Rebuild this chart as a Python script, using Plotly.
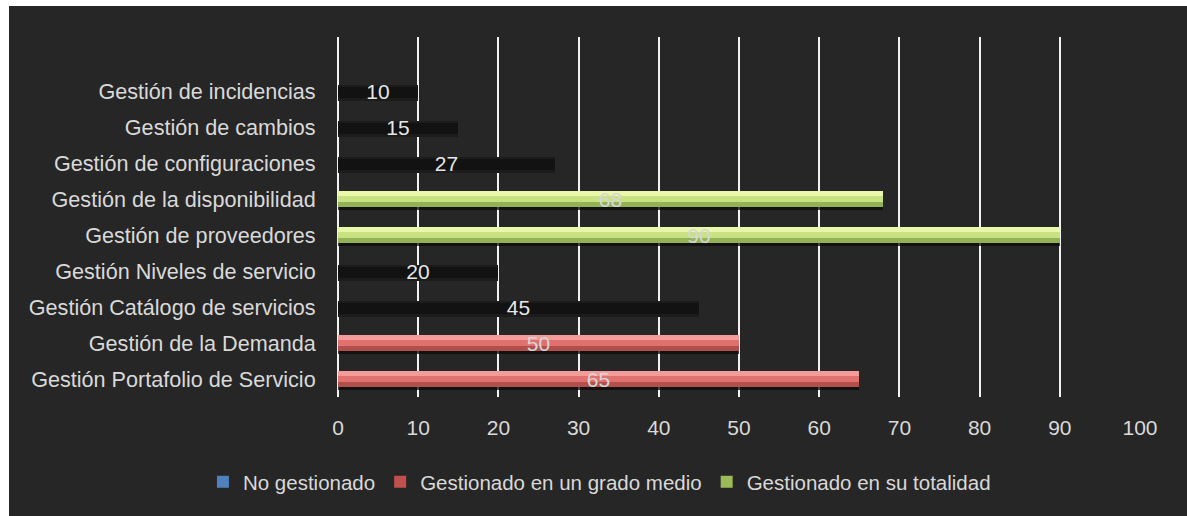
import plotly.graph_objects as go

# ---- data (top to bottom as shown) ----
categories = [
    "Gestión de incidencias",
    "Gestión de cambios",
    "Gestión de configuraciones",
    "Gestión de la disponibilidad",
    "Gestión de proveedores",
    "Gestión Niveles de servicio",
    "Gestión Catálogo de servicios",
    "Gestión de la Demanda",
    "Gestión Portafolio de Servicio",
]
no_gestionado = [10, 15, 27, None, None, 20, 45, None, None]
grado_medio = [None, None, None, None, None, None, None, 50, 65]
totalidad = [None, None, None, 68, 90, None, None, None, None]
series_names = ["No gestionado", "Gestionado en un grado medio", "Gestionado en su totalidad"]
x_ticks = [0, 10, 20, 30, 40, 50, 60, 70, 80, 90, 100]

# positions: top category highest (one empty slot above)
n = len(categories)
ypos = [n - 1 - i for i in range(n)]

FONT = "Liberation Sans"
TXT = "#d9d9d9"
BG = "#262626"

fig = go.Figure()

def layered(vals, name, layers, text_color):
    # shadow
    fig.add_trace(go.Bar(y=ypos, x=vals, orientation="h", width=0.46, offset=-0.31,
                         marker=dict(color="rgba(12,12,12,0.75)", line_width=0),
                         showlegend=False, hoverinfo="skip"))
    for (w, off, col) in layers:
        fig.add_trace(go.Bar(y=ypos, x=vals, orientation="h", width=w, offset=off,
                             marker=dict(color=col, line_width=0),
                             showlegend=False, hoverinfo="skip"))
    # text carrier
    fig.add_trace(go.Bar(y=ypos, x=vals, orientation="h", width=0.42, offset=-0.21,
                         name=name, marker=dict(color="rgba(0,0,0,0)", line_width=0),
                         text=[("" if v is None else str(v)) for v in vals],
                         textposition="inside", insidetextanchor="middle",
                         constraintext="none", cliponaxis=False,
                         textfont=dict(family=FONT, size=21, color=text_color),
                         showlegend=False, hoverinfo="skip"))

# No gestionado: dark blurred bars
fig.add_trace(go.Bar(y=ypos, x=no_gestionado, orientation="h", width=0.44, offset=-0.27,
                     marker=dict(color="#1c1c1c", line_width=0), showlegend=False, hoverinfo="skip"))
fig.add_trace(go.Bar(y=ypos, x=no_gestionado, orientation="h", width=0.3, offset=-0.2,
                     marker=dict(color="#121212", line_width=0), showlegend=False, hoverinfo="skip"))
fig.add_trace(go.Bar(y=ypos, x=no_gestionado, orientation="h", width=0.42, offset=-0.21,
                     marker=dict(color="rgba(0,0,0,0)", line_width=0),
                     text=[("" if v is None else str(v)) for v in no_gestionado],
                     textposition="inside", insidetextanchor="middle", constraintext="none",
                     cliponaxis=False,
                     textfont=dict(family=FONT, size=21, color="#e6e6e6"),
                     showlegend=False, hoverinfo="skip"))

layered(grado_medio, series_names[1],
        [(0.42, -0.21, "#b24e4b"), (0.3, -0.09, "#e0716e"), (0.13, 0.08, "#f39c99")], "#d6d6d6")
layered(totalidad, series_names[2],
        [(0.42, -0.21, "#93b255"), (0.3, -0.09, "#c8e183"), (0.13, 0.08, "#e8f7a8")], "#d6d6d6")

# legend-only entries
for nm, col in zip(series_names, ["#4f81bd", "#c0504d", "#9bbb59"]):
    fig.add_trace(go.Bar(y=[None], x=[None], orientation="h", name=nm,
                         marker=dict(color=col, line=dict(color=col, width=0)),
                         showlegend=True, hoverinfo="skip"))

# white page edge (left / top)
px_l, px_r, px_t, px_b = 338, 1140, 37, 397
def fx(p):
    return (p - px_l) / (px_r - px_l)
def fy(p):
    return (px_b - p) / (px_b - px_t)

fig.update_layout(
    width=1187, height=516, autosize=False,
    margin=dict(l=338, r=47, t=37, b=119, pad=0, autoexpand=False),
    paper_bgcolor=BG, plot_bgcolor=BG,
    barmode="overlay", bargap=0,
    font=dict(family=FONT, size=21, color=TXT),
    xaxis=dict(range=[0, 100], tickvals=x_ticks, ticktext=[str(t) for t in x_ticks],
               showgrid=True, gridcolor="#f2f2f2", gridwidth=2,
               zeroline=True, zerolinecolor="#f2f2f2", zerolinewidth=2,
               showline=False, ticks="outside", ticklen=12, tickcolor="rgba(0,0,0,0)",
               tickfont=dict(family=FONT, size=21, color=TXT), fixedrange=True),
    yaxis=dict(range=[-0.5, 9.5], tickvals=ypos, ticktext=categories,
               showgrid=False, zeroline=False, showline=False,
               ticks="outside", ticklen=17, tickcolor="rgba(0,0,0,0)",
               tickfont=dict(family=FONT, size=21.6, color=TXT), fixedrange=True),
    legend=dict(orientation="h", xref="container", yref="container",
                x=0.505, xanchor="center", y=0.066, yanchor="middle",
                font=dict(family=FONT, size=20.5, color=TXT),
                bgcolor="rgba(0,0,0,0)", itemwidth=30, traceorder="normal"),
    shapes=[
        dict(type="rect", xref="paper", yref="paper", x0=fx(-20), x1=fx(9), y0=fy(600), y1=fy(-20),
             fillcolor="white", line_width=0, layer="above"),
        dict(type="rect", xref="paper", yref="paper", x0=fx(-20), x1=fx(1250), y0=fy(6), y1=fy(-20),
             fillcolor="white", line_width=0, layer="above"),
    ],
)

fig.write_html("out.html")
